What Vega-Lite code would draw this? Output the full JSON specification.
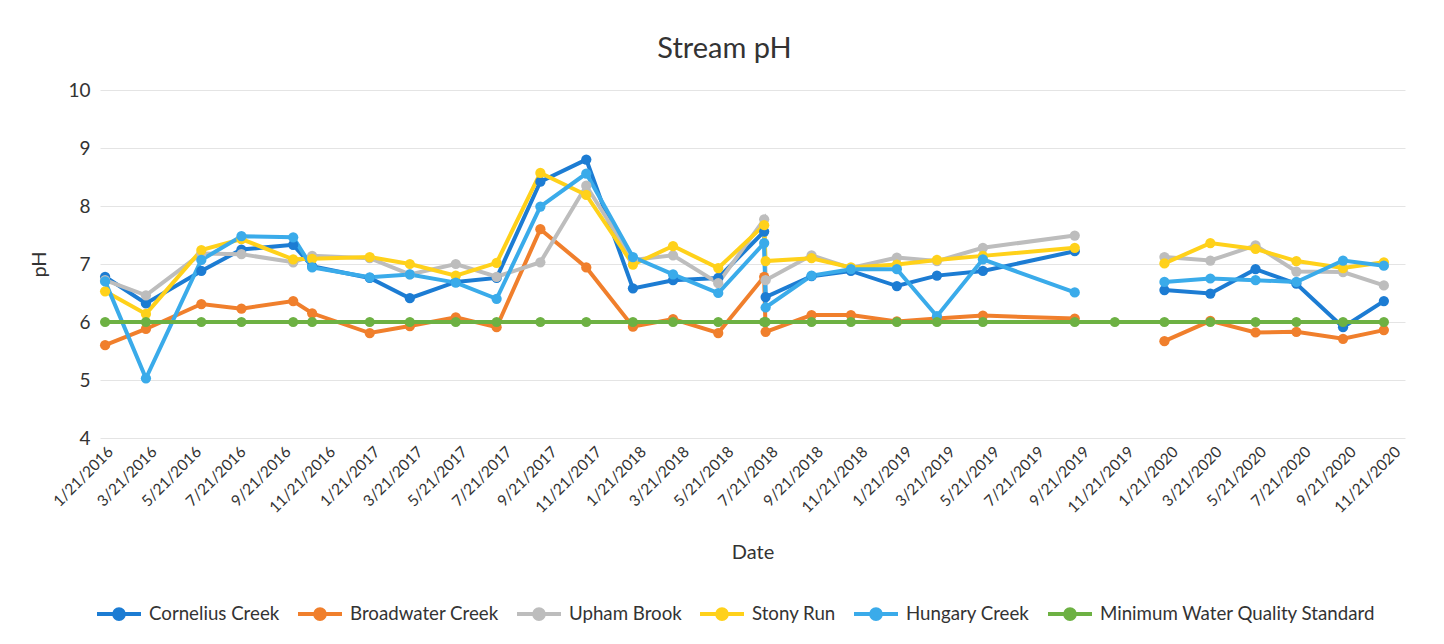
{
  "$schema": "https://vega.github.io/schema/vega-lite/v6.json",
  "width": 1305,
  "height": 348,
  "autosize": {"type": "none"},
  "padding": {"left": 100, "top": 90, "right": 39, "bottom": 206},
  "background": "white",
  "title": {"text": "Stream pH", "font": "Lato", "fontSize": 29, "fontWeight": "normal", "color": "#333333", "dx": -28, "offset": 17},
  "config": {"font": "Lato", "view": {"stroke": null}},
  "data": {"values": [
    {"date": "2016-01-21", "Cornelius Creek": 6.78, "Broadwater Creek": 5.60, "Upham Brook": 6.72, "Stony Run": 6.53, "Hungary Creek": 6.70, "Minimum Water Quality Standard": 6},
    {"date": "2016-03-17", "Cornelius Creek": 6.32, "Broadwater Creek": 5.88, "Upham Brook": 6.46, "Stony Run": 6.14, "Hungary Creek": 5.03, "Minimum Water Quality Standard": 6},
    {"date": "2016-06-01", "Cornelius Creek": 6.88, "Broadwater Creek": 6.31, "Upham Brook": 7.18, "Stony Run": 7.24, "Hungary Creek": 7.07, "Minimum Water Quality Standard": 6},
    {"date": "2016-07-26", "Cornelius Creek": 7.25, "Broadwater Creek": 6.23, "Upham Brook": 7.17, "Stony Run": 7.43, "Hungary Creek": 7.48, "Minimum Water Quality Standard": 6},
    {"date": "2016-10-05", "Cornelius Creek": 7.33, "Broadwater Creek": 6.36, "Upham Brook": 7.03, "Stony Run": 7.08, "Hungary Creek": 7.46, "Minimum Water Quality Standard": 6},
    {"date": "2016-10-31", "Cornelius Creek": 6.96, "Broadwater Creek": 6.15, "Upham Brook": 7.14, "Stony Run": 7.09, "Hungary Creek": 6.94, "Minimum Water Quality Standard": 6},
    {"date": "2017-01-18", "Cornelius Creek": 6.76, "Broadwater Creek": 5.81, "Upham Brook": 7.10, "Stony Run": 7.12, "Hungary Creek": 6.77, "Minimum Water Quality Standard": 6},
    {"date": "2017-03-14", "Cornelius Creek": 6.41, "Broadwater Creek": 5.93, "Upham Brook": 6.82, "Stony Run": 7.00, "Hungary Creek": 6.82, "Minimum Water Quality Standard": 6},
    {"date": "2017-05-16", "Cornelius Creek": 6.69, "Broadwater Creek": 6.08, "Upham Brook": 7.00, "Stony Run": 6.80, "Hungary Creek": 6.68, "Minimum Water Quality Standard": 6},
    {"date": "2017-07-11", "Cornelius Creek": 6.76, "Broadwater Creek": 5.91, "Upham Brook": 6.78, "Stony Run": 7.02, "Hungary Creek": 6.40, "Minimum Water Quality Standard": 6},
    {"date": "2017-09-09", "Cornelius Creek": 8.42, "Broadwater Creek": 7.60, "Upham Brook": 7.03, "Stony Run": 8.57, "Hungary Creek": 7.99, "Minimum Water Quality Standard": 6},
    {"date": "2017-11-11", "Cornelius Creek": 8.80, "Broadwater Creek": 6.94, "Upham Brook": 8.35, "Stony Run": 8.19, "Hungary Creek": 8.56, "Minimum Water Quality Standard": 6},
    {"date": "2018-01-14", "Cornelius Creek": 6.58, "Broadwater Creek": 5.92, "Upham Brook": 7.07, "Stony Run": 6.99, "Hungary Creek": 7.12, "Minimum Water Quality Standard": 6},
    {"date": "2018-03-10", "Cornelius Creek": 6.72, "Broadwater Creek": 6.05, "Upham Brook": 7.15, "Stony Run": 7.31, "Hungary Creek": 6.82, "Minimum Water Quality Standard": 6},
    {"date": "2018-05-11", "Cornelius Creek": 6.76, "Broadwater Creek": 5.81, "Upham Brook": 6.67, "Stony Run": 6.93, "Hungary Creek": 6.50, "Minimum Water Quality Standard": 6},
    {"date": "2018-07-13", "Cornelius Creek": 7.56, "Broadwater Creek": 6.78, "Upham Brook": 7.77, "Stony Run": 7.67, "Hungary Creek": 7.36, "Minimum Water Quality Standard": 6},
    {"date": "2018-07-15", "Cornelius Creek": 6.43, "Broadwater Creek": 5.83, "Upham Brook": 6.72, "Stony Run": 7.05, "Hungary Creek": 6.25, "Minimum Water Quality Standard": 6},
    {"date": "2018-09-16", "Cornelius Creek": 6.79, "Broadwater Creek": 6.12, "Upham Brook": 7.15, "Stony Run": 7.10, "Hungary Creek": 6.80, "Minimum Water Quality Standard": 6},
    {"date": "2018-11-09", "Cornelius Creek": 6.88, "Broadwater Creek": 6.12, "Upham Brook": 6.93, "Stony Run": 6.94, "Hungary Creek": 6.91, "Minimum Water Quality Standard": 6},
    {"date": "2019-01-11", "Cornelius Creek": 6.62, "Broadwater Creek": 6.01, "Upham Brook": 7.11, "Stony Run": 6.99, "Hungary Creek": 6.91, "Minimum Water Quality Standard": 6},
    {"date": "2019-03-07", "Cornelius Creek": 6.80, "Broadwater Creek": 6.06, "Upham Brook": 7.05, "Stony Run": 7.07, "Hungary Creek": 6.10, "Minimum Water Quality Standard": 6},
    {"date": "2019-05-09", "Cornelius Creek": 6.88, "Broadwater Creek": 6.11, "Upham Brook": 7.28, "Stony Run": 7.14, "Hungary Creek": 7.08, "Minimum Water Quality Standard": 6},
    {"date": "2019-09-12", "Cornelius Creek": 7.22, "Broadwater Creek": 6.06, "Upham Brook": 7.49, "Stony Run": 7.28, "Hungary Creek": 6.51, "Minimum Water Quality Standard": 6},
    {"date": "2019-11-06", "Cornelius Creek": null, "Broadwater Creek": null, "Upham Brook": null, "Stony Run": null, "Hungary Creek": null, "Minimum Water Quality Standard": 6},
    {"date": "2020-01-13", "Cornelius Creek": 6.55, "Broadwater Creek": 5.67, "Upham Brook": 7.12, "Stony Run": 7.01, "Hungary Creek": 6.69, "Minimum Water Quality Standard": 6},
    {"date": "2020-03-16", "Cornelius Creek": 6.49, "Broadwater Creek": 6.02, "Upham Brook": 7.06, "Stony Run": 7.36, "Hungary Creek": 6.75, "Minimum Water Quality Standard": 6},
    {"date": "2020-05-17", "Cornelius Creek": 6.91, "Broadwater Creek": 5.82, "Upham Brook": 7.32, "Stony Run": 7.26, "Hungary Creek": 6.72, "Minimum Water Quality Standard": 6},
    {"date": "2020-07-12", "Cornelius Creek": 6.66, "Broadwater Creek": 5.83, "Upham Brook": 6.87, "Stony Run": 7.05, "Hungary Creek": 6.69, "Minimum Water Quality Standard": 6},
    {"date": "2020-09-14", "Cornelius Creek": 5.91, "Broadwater Creek": 5.71, "Upham Brook": 6.86, "Stony Run": 6.93, "Hungary Creek": 7.06, "Minimum Water Quality Standard": 6},
    {"date": "2020-11-09", "Cornelius Creek": 6.36, "Broadwater Creek": 5.86, "Upham Brook": 6.63, "Stony Run": 7.03, "Hungary Creek": 6.97, "Minimum Water Quality Standard": 6}
  ]},
  "transform": [
    {"fold": ["Cornelius Creek", "Broadwater Creek", "Upham Brook", "Stony Run", "Hungary Creek", "Minimum Water Quality Standard"], "as": ["series", "pH"]}
  ],
  "encoding": {
    "x": {
      "field": "date", "type": "temporal",
      "scale": {"type": "utc", "domain": [{"year": 2016, "month": 1, "date": 14, "utc": true}, {"year": 2020, "month": 12, "date": 8, "utc": true}]},
      "axis": {
        "title": "Date", "titleFont": "Lato", "titleFontSize": 20, "titleFontWeight": "normal", "titleColor": "#333333", "titlePadding": 27,
        "format": "%-m/%-d/%Y", "labelAngle": -45, "labelFont": "Lato", "labelFontSize": 15.5, "labelColor": "#333333", "labelPadding": 6,
        "labelOverlap": false, "labelBound": false, "labelFlush": false,
        "grid": false, "ticks": false, "domain": false,
        "values": [
          {"year": 2016, "month": 1, "date": 21, "utc": true}, {"year": 2016, "month": 3, "date": 21, "utc": true}, {"year": 2016, "month": 5, "date": 21, "utc": true}, {"year": 2016, "month": 7, "date": 21, "utc": true}, {"year": 2016, "month": 9, "date": 21, "utc": true}, {"year": 2016, "month": 11, "date": 21, "utc": true},
          {"year": 2017, "month": 1, "date": 21, "utc": true}, {"year": 2017, "month": 3, "date": 21, "utc": true}, {"year": 2017, "month": 5, "date": 21, "utc": true}, {"year": 2017, "month": 7, "date": 21, "utc": true}, {"year": 2017, "month": 9, "date": 21, "utc": true}, {"year": 2017, "month": 11, "date": 21, "utc": true},
          {"year": 2018, "month": 1, "date": 21, "utc": true}, {"year": 2018, "month": 3, "date": 21, "utc": true}, {"year": 2018, "month": 5, "date": 21, "utc": true}, {"year": 2018, "month": 7, "date": 21, "utc": true}, {"year": 2018, "month": 9, "date": 21, "utc": true}, {"year": 2018, "month": 11, "date": 21, "utc": true},
          {"year": 2019, "month": 1, "date": 21, "utc": true}, {"year": 2019, "month": 3, "date": 21, "utc": true}, {"year": 2019, "month": 5, "date": 21, "utc": true}, {"year": 2019, "month": 7, "date": 21, "utc": true}, {"year": 2019, "month": 9, "date": 21, "utc": true}, {"year": 2019, "month": 11, "date": 21, "utc": true},
          {"year": 2020, "month": 1, "date": 21, "utc": true}, {"year": 2020, "month": 3, "date": 21, "utc": true}, {"year": 2020, "month": 5, "date": 21, "utc": true}, {"year": 2020, "month": 7, "date": 21, "utc": true}, {"year": 2020, "month": 9, "date": 21, "utc": true}, {"year": 2020, "month": 11, "date": 21, "utc": true}
        ]
      }
    },
    "y": {
      "field": "pH", "type": "quantitative",
      "scale": {"domain": [4, 10], "nice": false, "zero": false},
      "axis": {
        "title": "pH", "titleFont": "Lato", "titleFontSize": 20, "titleFontWeight": "normal", "titleColor": "#333333", "titlePadding": 18,
        "values": [4, 5, 6, 7, 8, 9, 10], "labelFont": "Lato", "labelFontSize": 19, "labelColor": "#333333", "labelPadding": 10,
        "grid": true, "gridColor": "#e4e4e4", "gridWidth": 1, "ticks": false, "domain": false
      }
    },
    "color": {
      "field": "series", "type": "nominal",
      "scale": {
        "domain": ["Cornelius Creek", "Broadwater Creek", "Upham Brook", "Stony Run", "Hungary Creek", "Minimum Water Quality Standard"],
        "range": ["#1c7cd3", "#f07f2c", "#bdbdbd", "#ffd11a", "#3aabea", "#6db143"]
      },
      "legend": {
        "title": null, "orient": "none", "legendX": -5, "legendY": 500, "direction": "horizontal",
        "symbolType": "M-1,0H1M0.22,0A0.22,0.22,0,1,1,-0.22,0A0.22,0.22,0,1,1,0.22,0Z",
        "symbolSize": 1936, "symbolStrokeWidth": 4, "symbolOpacity": 1,
        "labelFont": "Lato", "labelFontSize": 18.7, "labelColor": "#333333", "labelOffset": 6, "labelLimit": 0, "columnPadding": 10,
        "encode": {"symbols": {"update": {"fill": {"scale": "color", "field": "value"}, "stroke": {"scale": "color", "field": "value"}, "fillOpacity": {"value": 1}, "strokeOpacity": {"value": 1}}}}
      }
    }
  },
  "layer": [
    {"mark": {"type": "line", "strokeWidth": 4, "invalid": "break-paths-show-domains"}},
    {"mark": {"type": "point", "filled": true, "size": 105, "opacity": 1}}
  ]
}
